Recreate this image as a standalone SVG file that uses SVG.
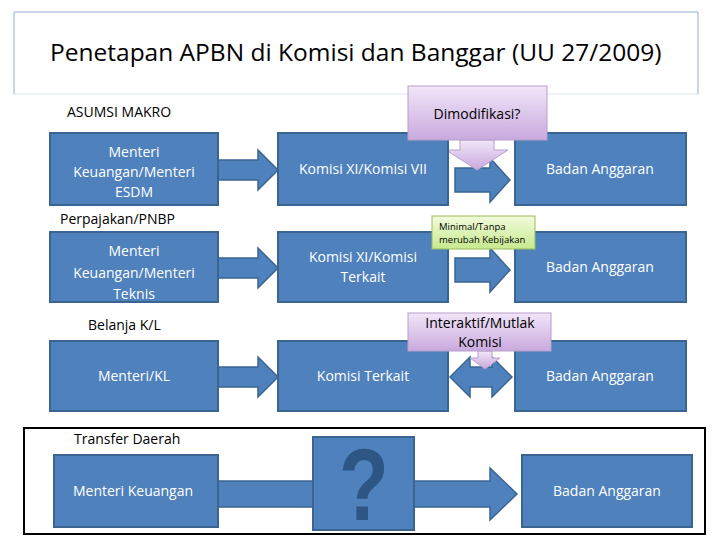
<svg xmlns="http://www.w3.org/2000/svg" width="728" height="546" viewBox="0 0 728 546">
<defs>
<linearGradient id="lil" x1="0" y1="0" x2="0" y2="1"><stop offset="0" stop-color="#f1e6f8"/><stop offset="1" stop-color="#c9a9de"/></linearGradient>
<linearGradient id="grn" x1="0" y1="0" x2="0" y2="1"><stop offset="0" stop-color="#f2fbdc"/><stop offset="1" stop-color="#c6e98e"/></linearGradient>
<style>
.b{fill:#4f81bd;stroke:#3a6593;stroke-width:2}
.a{fill:#4f81bd;stroke:#3a6593;stroke-width:1.5}
.t{font-family:"Open Sans","Liberation Sans",sans-serif;font-size:14px;fill:#fff;text-anchor:middle}
.l{font-family:"Open Sans","Liberation Sans",sans-serif;font-size:14px;fill:#000}
.c{font-family:"Open Sans","Liberation Sans",sans-serif;fill:#000;text-anchor:middle}
</style>
</defs>
<rect width="728" height="546" fill="#fff"/>
<g id="title"><path d="M14 94 V12 H698 V94" fill="none" stroke="#8fb0d3" stroke-width="1"/><line x1="14" y1="94" x2="698" y2="94" stroke="#dde6f0"/>
<text x="50" y="61" font-family="Open Sans, Liberation Sans, sans-serif" font-size="24.5" fill="#000">Penetapan APBN di Komisi dan Banggar (UU 27/2009)</text></g>
<g id="connectors">
<polygon class="a" points="218,160 258,160 258,150 278,170 258,190 258,180 218,180"/>
<polygon class="a" points="455,168 490,168 490,158 510,180 490,202 490,192 455,192"/>
<polygon class="a" points="218,258 258,258 258,248 278,268 258,288 258,278 218,278"/>
<polygon class="a" points="455,258 490,258 490,248 510,270 490,292 490,282 455,282"/>
<polygon class="a" points="218,367 258,367 258,357 278,377 258,397 258,387 218,387"/>
<polygon class="a" points="450,377 470,357 470,367 492,367 492,357 512,377 492,397 492,387 470,387 470,397"/>
<polygon class="a" points="218,481 490,481 490,468 517,494 490,520 490,507 218,507"/>
<polygon points="460,140 494,140 494,150 508,150 477,170 446,150 460,150" fill="url(#lil)" stroke="#b9a0cc"/>
<polygon points="478,351 492,351 492,358 500,358 485,369 470,358 478,358" fill="url(#lil)" stroke="#b9a0cc"/>
</g>
<g id="row1">
<text class="l" x="67" y="117">ASUMSI MAKRO</text>
<rect class="b" x="50" y="133" width="168" height="72"/><text class="t" x="134" y="157">Menteri</text><text class="t" x="134" y="177">Keuangan/Menteri</text><text class="t" x="134" y="197">ESDM</text>
<rect class="b" x="278" y="133" width="170" height="72"/><text class="t" x="363" y="174">Komisi XI/Komisi VII</text>
<rect class="b" x="515" y="133" width="171" height="72"/><text class="t" x="600" y="174">Badan Anggaran</text>
</g>
<g id="dimod"><rect x="408" y="86" width="139" height="54" fill="url(#lil)" stroke="#b9a0cc"/><text class="c" x="477" y="119" font-size="14">Dimodifikasi?</text></g>
<g id="row2">
<text class="l" x="60" y="224">Perpajakan/PNBP</text>
<rect class="b" x="50" y="232" width="168" height="70"/><text class="t" x="134" y="256">Menteri</text><text class="t" x="134" y="278">Keuangan/Menteri</text><text class="t" x="134" y="299">Teknis</text>
<rect class="b" x="278" y="232" width="170" height="70"/><text class="t" x="363" y="262">Komisi XI/Komisi</text><text class="t" x="363" y="282">Terkait</text>
<rect class="b" x="515" y="232" width="171" height="70"/><text class="t" x="600" y="272">Badan Anggaran</text>
</g>
<g id="minimal"><rect x="432" y="216" width="103" height="33" fill="url(#grn)" stroke="#9bbb59"/><text x="439" y="230" font-family="Open Sans, Liberation Sans, sans-serif" font-size="9.5">Minimal/Tanpa</text><text x="439" y="243" font-family="Open Sans, Liberation Sans, sans-serif" font-size="9.5">merubah Kebijakan</text></g>
<g id="row3">
<text class="l" x="88" y="330">Belanja K/L</text>
<rect class="b" x="50" y="341" width="168" height="70"/><text class="t" x="134" y="381">Menteri/KL</text>
<rect class="b" x="278" y="341" width="170" height="70"/><text class="t" x="363" y="381">Komisi Terkait</text>
<rect class="b" x="515" y="341" width="171" height="70"/><text class="t" x="600" y="381">Badan Anggaran</text>
</g>
<g id="interaktif"><rect x="408" y="313" width="143" height="38" fill="url(#lil)" stroke="#b9a0cc"/><text class="c" x="480" y="328" font-size="14">Interaktif/Mutlak</text><text class="c" x="480" y="347" font-size="14">Komisi</text></g>
<g id="row4">
<rect x="24" y="428" width="681" height="106" fill="none" stroke="#000" stroke-width="2"/>
<text class="l" x="74" y="444">Transfer Daerah</text>
<rect class="b" x="54" y="455" width="164" height="72"/><text class="t" x="133" y="496">Menteri Keuangan</text>
<rect class="b" x="522" y="455" width="170" height="72"/><text class="t" x="607" y="496">Badan Anggaran</text>
</g>
<g id="question"><rect class="b" x="313" y="437" width="101" height="93"/><text x="0" y="0" transform="translate(364 520) scale(0.8 1)" text-anchor="middle" font-family="Liberation Sans, sans-serif" font-weight="bold" font-size="102" fill="#2d5684">?</text></g>
</svg>
